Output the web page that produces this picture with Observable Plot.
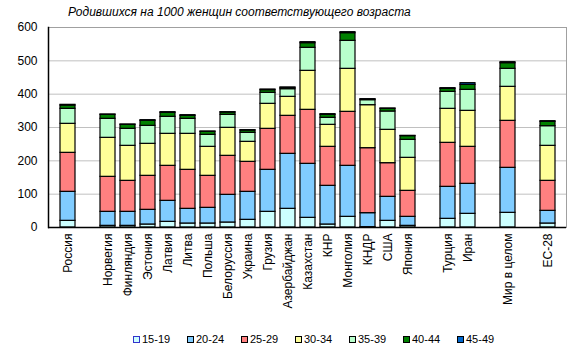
<!DOCTYPE html>
<html><head><meta charset="utf-8">
<script src="https://cdn.jsdelivr.net/npm/d3@7"></script>
<script src="https://cdn.jsdelivr.net/npm/@observablehq/plot@0.6"></script>
<style>
body{margin:0;background:#fff;font-family:"Liberation Sans",Arial,sans-serif;}
#title{height:20px;line-height:24px;font-size:12px;font-style:italic;padding-left:68px;white-space:nowrap;}
#legend{position:relative;height:33px;font-size:11px;}
.li{position:absolute;top:11px;display:flex;align-items:center;gap:2px;}
.sw{width:5px;height:5px;border:1px solid #000;}
</style></head><body>
<div id="title">Родившихся на 1000 женщин соответствующего возраста</div>
<div id="chart"></div>
<div id="legend"></div>
<script>
const categories = ["Россия","Норвегия","Финляндия","Эстония","Латвия","Литва","Польша","Белоруссия","Украина","Грузия","Азербайджан","Казахстан","КНР","Монголия","КНДР","США","Япония","Турция","Иран","Мир в целом","ЕС-28"];
const slots = ["Россия"," ","Норвегия","Финляндия","Эстония","Латвия","Литва","Польша","Белоруссия","Украина","Грузия","Азербайджан","Казахстан","КНР","Монголия","КНДР","США","Япония","  ","Турция","Иран","   ","Мир в целом","    ","ЕС-28"];
const ages = ["15-19","20-24","25-29","30-34","35-39","40-44","45-49"];
const a15_19 = [20,5,5,9,17,12,12,15,23,47,56,29,9,32,1,20,5,26,41,44,12];
const a20_24 = [87,42,42,44,63,44,47,83,84,126,165,162,116,153,42,72,27,96,90,135,38];
const a25_29 = [117,105,93,102,105,117,96,117,90,123,114,162,117,162,195,101,78,132,111,141,90];
const a30_34 = [87,117,105,96,96,108,87,84,60,75,57,117,66,129,129,100,99,102,108,102,105];
const a35_39 = [45,57,51,54,51,45,36,39,27,33,23,69,21,84,15,55,54,51,63,54,59];
const a40_44 = [10,12,12,15,12,9,9,7,7,8,4,14,9,23,2,8,11,9,15,17,13];
const a45_49 = [2,1,1,2,2,2,1,1,1,2,1,3,2,3,1,1,1,2,5,3,2];
const yTicks = [0,100,200,300,400,500,600];
const colors = ["#CCFFFF","#80CCFF","#FF8080","#FFFF99","#B8FFCC","#008000","#0066CC"];
const legendBorders = ["#3333CC","#000","#000","#000","#000","#000","#000"];

const series = [a15_19,a20_24,a25_29,a30_34,a35_39,a40_44,a45_49];
const data = [];
categories.forEach((c,i)=>ages.forEach((a,j)=>data.push({country:c, age:a, value:series[j][i]})));

const plot = Plot.plot({
  width:579, height:302, marginTop:7, marginLeft:48, marginRight:13, marginBottom:95,
  style:{fontFamily:"'Liberation Sans', Arial, sans-serif", fontSize:"12px", background:"white", color:"black", overflow:"visible"},
  x:{domain:slots, paddingInner:0.27, paddingOuter:0.135},
  y:{domain:[0,600]},
  color:{domain:ages, range:colors},
  marks:[
    Plot.gridY(yTicks,{stroke:"#c0c0c0", strokeOpacity:1}),
    Plot.frame({stroke:"#a0a0a0"}),
    Plot.barY(data,{x:"country", y:"value", fill:"age", stroke:"black", strokeWidth:1.2}),
    Plot.ruleY([0],{stroke:"black", strokeWidth:1.5}),
    Plot.frame({anchor:"left", stroke:"black", strokeWidth:1.5}),
    Plot.axisY(yTicks,{tickSize:0, tickPadding:11, label:null}),
    Plot.axisX({tickSize:0, tickRotate:-90, label:null, tickPadding:6, tickFormat:d=>d.trim()})
  ]
});
document.getElementById("chart").appendChild(plot);

const lg = document.getElementById("legend");
ages.forEach((a,i)=>{
  const d = document.createElement("div");
  d.className="li";
  d.style.left = (133 + i*54) + "px";
  const s = document.createElement("div");
  s.className="sw"; s.style.background = colors[i]; s.style.borderColor = legendBorders[i];
  const t = document.createElement("span"); t.textContent = a;
  d.appendChild(s); d.appendChild(t); lg.appendChild(d);
});
</script>
</body></html>
